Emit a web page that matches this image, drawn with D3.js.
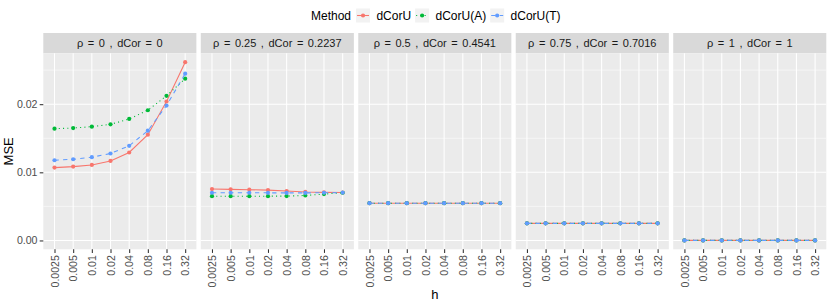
<!DOCTYPE html>
<html>
<head>
<meta charset="utf-8">
<script src="https://cdn.jsdelivr.net/npm/d3@7"></script>
<style>
    body { margin: 0; background: #fff; }
    svg { display: block; font-family: 'Liberation Sans', Arial, sans-serif; }
</style>
</head>
<body>
<div id="chart"></div>
<script>
// h values on the x axis (discrete)
const hLabels = ['0.0025', '0.005', '0.01', '0.02', '0.04', '0.08', '0.16', '0.32'];

const methods = ['dCorU', 'dCorU(A)', 'dCorU(T)'];
const methodColors = ['#F8766D', '#00BA38', '#619CFF'];
const methodDash = ['none', '1.07,3.2', '4.3,4.3'];

// facets
const rhoLabels = ['0', '0.25', '0.5', '0.75', '1'];
const dcorLabels = ['0', '0.2237', '0.4541', '0.7016', '1'];

// MSE, one row per facet, one value per h
const mseDcorU = [
    [0.01069, 0.01084, 0.01108, 0.01167, 0.01291, 0.01552, 0.02039, 0.02616],
    [0.00754, 0.00750, 0.00745, 0.00739, 0.00726, 0.00712, 0.00706, 0.00704],
    [0.00547, 0.00547, 0.00547, 0.00547, 0.00547, 0.00547, 0.00547, 0.00547],
    [0.00251, 0.00251, 0.00251, 0.00251, 0.00251, 0.00251, 0.00251, 0.00251],
    [0.00001, 0.00001, 0.00001, 0.00001, 0.00001, 0.00001, 0.00001, 0.00001]
];
const mseDcorUA = [
    [0.01640, 0.01650, 0.01670, 0.01704, 0.01783, 0.01911, 0.02123, 0.02374],
    [0.00650, 0.00650, 0.00650, 0.00650, 0.00651, 0.00660, 0.00680, 0.00700],
    [0.00547, 0.00547, 0.00547, 0.00547, 0.00547, 0.00547, 0.00547, 0.00547],
    [0.00251, 0.00251, 0.00251, 0.00251, 0.00251, 0.00251, 0.00251, 0.00251],
    [0.00001, 0.00001, 0.00001, 0.00001, 0.00001, 0.00001, 0.00001, 0.00001]
];
const mseDcorUT = [
    [0.01177, 0.01192, 0.01222, 0.01276, 0.01389, 0.01611, 0.01980, 0.02448],
    [0.00700, 0.00700, 0.00700, 0.00699, 0.00698, 0.00698, 0.00700, 0.00703],
    [0.00547, 0.00547, 0.00547, 0.00547, 0.00547, 0.00547, 0.00547, 0.00547],
    [0.00251, 0.00251, 0.00251, 0.00251, 0.00251, 0.00251, 0.00251, 0.00251],
    [0.00001, 0.00001, 0.00001, 0.00001, 0.00001, 0.00001, 0.00001, 0.00001]
];

const yTicks = [0, 0.01, 0.02];
const yMinorTicks = [0.005, 0.015, 0.025];

const WIDTH = 830;
const HEIGHT = 305;
const margins = { left: 43.3, right: 3.7, top: 53.3, bottom: 55.7 };
const stripHeight = 20.3;
const panelGap = 4.4;

const seriesByMethod = [mseDcorU, mseDcorUA, mseDcorUT];

const svg = d3.select('#chart')
    .append('svg')
    .attr('width', WIDTH)
    .attr('height', HEIGHT);

const nPanels = rhoLabels.length;
const plotWidth = WIDTH - margins.left - margins.right;
const panelWidth = (plotWidth - panelGap * (nPanels - 1)) / nPanels;
const panelHeight = HEIGHT - margins.top - margins.bottom;

// ggplot style 5% expansion of the data range
const allValues = seriesByMethod.flat(2);
const [yMin, yMax] = d3.extent(allValues);
const yPad = (yMax - yMin) * 0.05;

const yScale = d3.scaleLinear()
    .domain([yMin - yPad, yMax + yPad])
    .range([panelHeight, 0]);

const xScale = d3.scalePoint()
    .domain(hLabels)
    .range([0, panelWidth])
    .padding(0.6);

const line = d3.line()
    .x((d, i) => xScale(hLabels[i]))
    .y(d => yScale(d));

rhoLabels.forEach((rho, p) => {
    const px = margins.left + p * (panelWidth + panelGap);

    // strip
    svg.append('rect')
        .attr('x', px)
        .attr('y', margins.top - stripHeight)
        .attr('width', panelWidth)
        .attr('height', stripHeight)
        .attr('fill', '#D9D9D9');

    svg.append('text')
        .attr('x', px + panelWidth / 2)
        .attr('y', margins.top - stripHeight / 2)
        .attr('dy', '0.36em')
        .attr('text-anchor', 'middle')
        .attr('fill', '#1A1A1A')
        .style('font-size', '11px')
        .style('word-spacing', '1.5px')
        .text(`ρ = ${rho} , dCor = ${dcorLabels[p]}`);

    const panel = svg.append('g')
        .attr('transform', `translate(${px}, ${margins.top})`);

    panel.append('rect')
        .attr('width', panelWidth)
        .attr('height', panelHeight)
        .attr('fill', '#EBEBEB');

    panel.append('g')
        .selectAll('line')
        .data(yMinorTicks)
        .join('line')
        .attr('x1', 0)
        .attr('x2', panelWidth)
        .attr('y1', d => yScale(d))
        .attr('y2', d => yScale(d))
        .attr('stroke', '#fff')
        .attr('stroke-width', 0.53);

    panel.append('g')
        .selectAll('line')
        .data(yTicks)
        .join('line')
        .attr('x1', 0)
        .attr('x2', panelWidth)
        .attr('y1', d => yScale(d))
        .attr('y2', d => yScale(d))
        .attr('stroke', '#fff')
        .attr('stroke-width', 1.07);

    panel.append('g')
        .selectAll('line')
        .data(hLabels)
        .join('line')
        .attr('x1', d => xScale(d))
        .attr('x2', d => xScale(d))
        .attr('y1', 0)
        .attr('y2', panelHeight)
        .attr('stroke', '#fff')
        .attr('stroke-width', 1.07);

    methods.forEach((m, k) => {
        const values = seriesByMethod[k][p];

        panel.append('path')
            .datum(values)
            .attr('fill', 'none')
            .attr('stroke', methodColors[k])
            .attr('stroke-width', 1.07)
            .attr('stroke-dasharray', methodDash[k])
            .attr('d', line);

        panel.append('g')
            .selectAll('circle')
            .data(values)
            .join('circle')
            .attr('cx', (d, i) => xScale(hLabels[i]))
            .attr('cy', d => yScale(d))
            .attr('r', 2.1)
            .attr('fill', methodColors[k]);
    });

    // x axis
    const xAxis = panel.append('g')
        .attr('transform', `translate(0, ${panelHeight})`)
        .call(d3.axisBottom(xScale).tickSize(3.6).tickPadding(2.2));

    xAxis.select('.domain').remove();
    xAxis.selectAll('line').attr('stroke', '#333333').attr('stroke-width', 1.07);
    xAxis.selectAll('text')
        .attr('transform', 'rotate(-90)')
        .attr('x', -5.8)
        .attr('y', 0)
        .attr('dy', '0.35em')
        .attr('text-anchor', 'end')
        .attr('fill', '#4D4D4D')
        .style('font-size', '10.6px')
        .style('font-family', 'Liberation Sans, Arial, sans-serif');

    if (p === 0) {
        const yAxis = panel.append('g')
            .call(d3.axisLeft(yScale)
                .tickValues(yTicks)
                .tickFormat(d3.format('.2f'))
                .tickSize(3.6)
                .tickPadding(2.2));

        yAxis.select('.domain').remove();
        yAxis.selectAll('line').attr('stroke', '#333333').attr('stroke-width', 1.07);
        yAxis.selectAll('text')
            .attr('fill', '#4D4D4D')
            .style('font-size', '10.6px')
            .style('font-family', 'Liberation Sans, Arial, sans-serif');
    }
});

// axis titles
svg.append('text')
    .attr('transform', `translate(13, ${margins.top + panelHeight / 2}) rotate(-90)`)
    .attr('text-anchor', 'middle')
    .attr('fill', '#000')
    .style('font-size', '13px')
    .text('MSE');

svg.append('text')
    .attr('x', margins.left + plotWidth / 2)
    .attr('y', 299)
    .attr('text-anchor', 'middle')
    .attr('fill', '#000')
    .style('font-size', '13px')
    .text('h');

// legend, laid out left to right
const legend = svg.append('g')
    .attr('transform', 'translate(311, 20)');

const title = legend.append('text')
    .attr('x', 0)
    .attr('y', 0)
    .attr('fill', '#000')
    .style('font-size', '12px')
    .text('Method');

const keyWidth = 12;
let cursor = title.node().getComputedTextLength() + 6;

methods.forEach((m, k) => {
    const key = legend.append('g')
        .attr('transform', `translate(${cursor + keyWidth / 2}, -4.5)`);

    key.append('rect')
        .attr('x', -keyWidth / 2 - 1)
        .attr('y', -7)
        .attr('width', keyWidth + 2)
        .attr('height', 14)
        .attr('fill', '#F2F2F2');

    key.append('line')
        .attr('x1', -keyWidth / 2)
        .attr('x2', keyWidth / 2)
        .attr('stroke', methodColors[k])
        .attr('stroke-width', 1.07)
        .attr('stroke-dasharray', methodDash[k]);

    key.append('circle')
        .attr('r', 2.1)
        .attr('fill', methodColors[k]);

    cursor += keyWidth + 7.4;

    const label = legend.append('text')
        .attr('x', cursor)
        .attr('y', 0)
        .attr('fill', '#000')
        .style('font-size', '12px')
        .text(m);

    cursor += label.node().getComputedTextLength() + 5;
});
</script>
</body>
</html>
